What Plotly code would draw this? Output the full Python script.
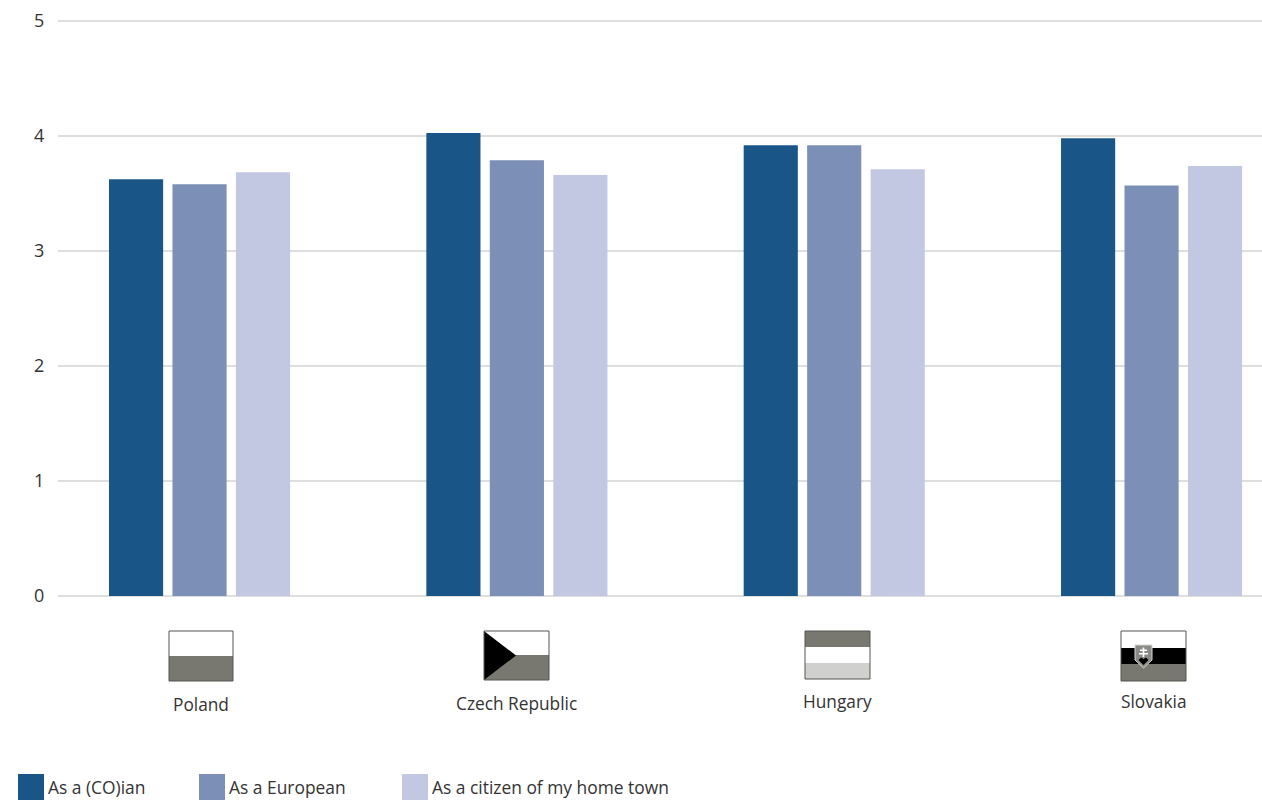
import plotly.graph_objects as go

countries = ["Poland", "Czech Republic", "Hungary", "Slovakia"]
series_names = ["As a (CO)ian", "As a European", "As a citizen of my home town"]
national = [3.625, 4.025, 3.92, 3.98]
european = [3.58, 3.79, 3.92, 3.57]
hometown = [3.685, 3.66, 3.71, 3.74]
colors = ["#1A5588", "#7C8FB7", "#C2C8E1"]
y_ticks = [0, 1, 2, 3, 4, 5]

W, H = 1262, 801
L, R, T, B = 58, 0, 18, 205
FONT = "Open Sans, sans-serif"
TEXT = "#333333"
FLAG_GREY = "#787770"

def px(x):
    return (x - L) / (W - L - R)

def py(y):
    return (H - B - y) / (H - T - B)

def rect(x0, y0, x1, y1, fill, line=None, width=1):
    return dict(type="rect", xref="paper", yref="paper", x0=px(x0), x1=px(x1), y0=py(y0), y1=py(y1),
                fillcolor=fill, line=dict(color=line or fill, width=width if line else 0))

def poly(points, fill, line=None, width=0):
    path = "M " + " L ".join(f"{px(x):.5f},{py(y):.5f}" for x, y in points) + " Z"
    return dict(type="path", xref="paper", yref="paper", path=path, fillcolor=fill,
                line=dict(color=line or fill, width=width))

fig = go.Figure()
for name, vals, col in zip(series_names, [national, european, hometown], colors):
    fig.add_trace(go.Bar(x=countries, y=vals, name=name, marker=dict(color=col, line=dict(width=0))))

shapes = []
border = "#555550"
# Poland
shapes += [rect(169, 631, 233, 656, "#FFFFFF"), rect(169, 656, 233, 681, FLAG_GREY),
           rect(169, 631, 233, 681, "rgba(0,0,0,0)", border)]
# Czech Republic
shapes += [rect(484, 631, 549, 655, "#FFFFFF"), rect(484, 655, 549, 680, FLAG_GREY),
           poly([(484, 631), (516, 655.5), (484, 680)], "#000000"),
           rect(484, 631, 549, 680, "rgba(0,0,0,0)", border)]
# Hungary
shapes += [rect(805, 631, 870, 647, FLAG_GREY), rect(805, 647, 870, 663, "#FFFFFF"),
           rect(805, 663, 870, 679, "#D0D0CE"), rect(805, 631, 870, 679, "rgba(0,0,0,0)", border)]
# Slovakia
shapes += [rect(1121, 631, 1186, 648, "#FFFFFF"), rect(1121, 648, 1186, 664, "#000000"),
           rect(1121, 664, 1186, 681, FLAG_GREY),
           poly([(1135, 645), (1152, 645), (1152, 660), (1143.5, 668), (1135, 660)], "#8A8A86", "#D8D8D8", 1),
           poly([(1138.5, 660), (1141, 657.5), (1143.5, 659), (1146, 657.5), (1148.5, 660), (1143.5, 665)], "#000000"),
           rect(1142.7, 647.5, 1144.3, 657, "#FFFFFF"), rect(1140, 649.5, 1147, 651, "#FFFFFF"),
           rect(1139, 653, 1148, 654.5, "#FFFFFF"),
           rect(1121, 631, 1186, 681, "rgba(0,0,0,0)", border)]

# legend swatches
swatch_x = [18, 199, 402]
text_x = [46, 227, 430]
for sx, col in zip(swatch_x, colors):
    shapes.append(rect(sx, 774, sx + 26, 800, col))

annotations = []
label_xy = [(201, 704.5), (516.5, 703.5), (837, 701.5), (1153.5, 701.5)]
for name, (cx, cy) in zip(countries, label_xy):
    annotations.append(dict(text=name, xref="paper", yref="paper", x=px(cx), y=py(cy), xanchor="center",
                            yanchor="middle", showarrow=False, font=dict(family=FONT, size=17.3, color=TEXT)))
for name, tx in zip(series_names, text_x):
    annotations.append(dict(text=name, xref="paper", yref="paper", x=px(tx), y=py(787), xanchor="left",
                            yanchor="middle", showarrow=False,
                            font=dict(family=FONT, size=17.4, color=TEXT)))

fig.update_layout(
    width=W, height=H, margin=dict(l=L, r=R, t=T, b=B, pad=0),
    paper_bgcolor="#FFFFFF", plot_bgcolor="#FFFFFF", showlegend=False,
    barmode="group", bargap=0.4, bargroupgap=0.147,
    font=dict(family=FONT, size=17, color=TEXT),
    shapes=shapes, annotations=annotations,
    xaxis=dict(type="category", categoryorder="array", categoryarray=countries, range=[-0.446, 3.348],
               showticklabels=False, showgrid=False, zeroline=False, ticks="", showline=False),
    yaxis=dict(range=[0, 5 + 3 / 115], tickmode="array", tickvals=y_ticks, ticktext=[str(v) for v in y_ticks],
               showgrid=True, gridcolor="#DEDEDE", gridwidth=1.5, zeroline=True, zerolinecolor="#DEDEDE",
               zerolinewidth=1.5, ticks="outside", ticklen=9, tickcolor="rgba(255,255,255,0)", showline=False,
               tickfont=dict(family=FONT, size=18, color=TEXT)),
)

fig.write_html("out.html", config={"displayModeBar": False},
               post_script="document.body.style.margin='0';document.body.style.overflow='hidden';")
